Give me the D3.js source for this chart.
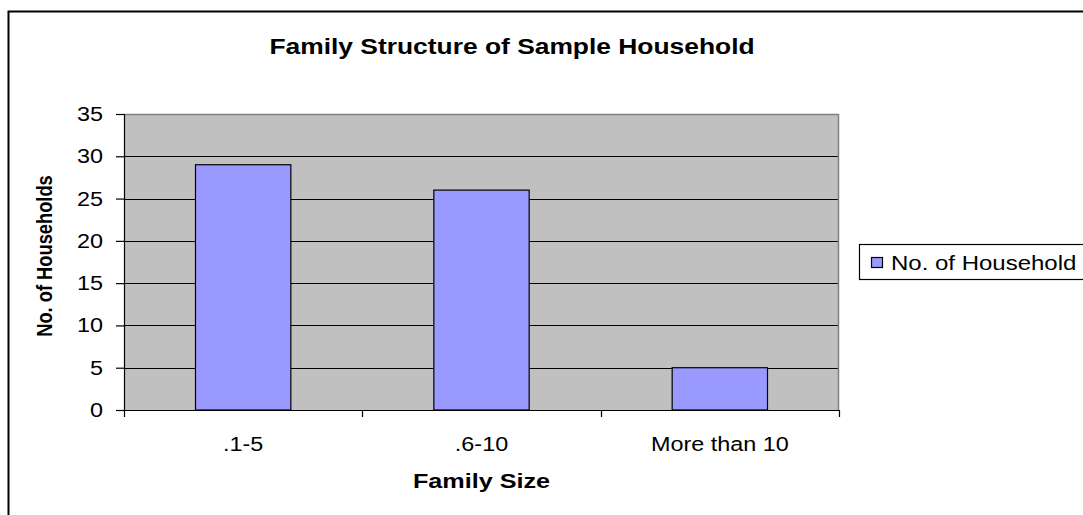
<!DOCTYPE html>
<html>
<head>
<meta charset="utf-8">
<script src="https://cdn.jsdelivr.net/npm/d3@7"></script>
<style>
  html, body { margin: 0; padding: 0; background: #fff; }
  svg { display: block; font-family: Arial, "Liberation Sans", sans-serif; }
</style>
</head>
<body>
<svg id="chart" width="1083" height="515"></svg>
<script>
// Family size groups and number of households in each
const categories = [".1-5", ".6-10", "More than 10"];
const households = [29, 26, 5];
const yTicks = [0, 5, 10, 15, 20, 25, 30, 35];

const titleText = "Family Structure of Sample Household";
const xTitle = "Family Size";
const yTitle = "No. of Households";
const seriesName = "No. of Household";

const svg = d3.select("#chart");
const W = 1083, H = 515;
const SX = 1.2; // text is drawn slightly wide, as in the exported chart

// chart frame
svg.append("rect")
  .attr("x", 8.5).attr("y", 11.5)
  .attr("width", W + 20).attr("height", H + 20)
  .attr("fill", "#fff").attr("stroke", "#000").attr("stroke-width", 2);

const plot = { left: 124, top: 114, right: 839, bottom: 410 };

const x = d3.scaleBand()
  .domain(categories)
  .range([plot.left, plot.right])
  .paddingInner(0.6)
  .paddingOuter(0.3);

const y = d3.scaleLinear()
  .domain([0, 35])
  .range([plot.bottom, plot.top]);

// helper for wide text
function wideText(g, tx, ty, str, size, opts = {}) {
  return g.append("text")
    .attr("transform", `translate(${tx},${ty}) scale(${SX},1)` + (opts.rotate ? ` rotate(${opts.rotate})` : ""))
    .attr("text-anchor", opts.anchor || "middle")
    .attr("dy", opts.dy || null)
    .attr("font-size", size)
    .attr("font-weight", opts.bold ? "bold" : null)
    .attr("fill", "#000")
    .text(str);
}

// plot area
svg.append("rect")
  .attr("x", plot.left).attr("y", plot.top)
  .attr("width", plot.right - plot.left).attr("height", plot.bottom - plot.top)
  .attr("fill", "#C0C0C0");

// gridlines
svg.append("g")
  .selectAll("line")
  .data(yTicks.filter(d => d > 0 && d < 35))
  .join("line")
  .attr("x1", plot.left).attr("x2", plot.right)
  .attr("y1", d => Math.round(y(d)) + 0.5).attr("y2", d => Math.round(y(d)) + 0.5)
  .attr("stroke", "#000").attr("stroke-width", 1.2);

// plot border (top and right in gray)
svg.append("path")
  .attr("d", `M${plot.left},${plot.top + 0.5}H${plot.right - 0.5}V${plot.bottom}`)
  .attr("fill", "none").attr("stroke", "#808080").attr("stroke-width", 1.5);

// bars
svg.append("g")
  .selectAll("rect")
  .data(categories.map((c, i) => ({ c, v: households[i] })))
  .join("rect")
  .attr("x", d => x(d.c))
  .attr("y", d => y(d.v))
  .attr("width", x.bandwidth())
  .attr("height", d => y(0) - y(d.v))
  .attr("fill", "#9999FF")
  .attr("stroke", "#000").attr("stroke-width", 1.2);

// y axis (line and ticks from d3, labels drawn wide)
const yAxis = d3.axisLeft(y).tickValues(yTicks).tickSize(8).tickFormat("");
const gy = svg.append("g")
  .attr("transform", `translate(${plot.left},0)`)
  .call(yAxis);
gy.select(".domain").attr("stroke", "#000").attr("stroke-width", 1.2);
gy.selectAll(".tick line").attr("stroke", "#000").attr("stroke-width", 1.2);
const gyl = svg.append("g");
yTicks.forEach(t => wideText(gyl, plot.left - 21, y(t), String(t), 19.5, { anchor: "end", dy: "0.36em" }));

// x axis: category boundary ticks and centered labels
const gx = svg.append("g");
gx.append("line")
  .attr("x1", plot.left).attr("x2", plot.right)
  .attr("y1", plot.bottom + 0.5).attr("y2", plot.bottom + 0.5)
  .attr("stroke", "#000").attr("stroke-width", 1.2);
const step = (plot.right - plot.left) / categories.length;
gx.selectAll("line.tk")
  .data(d3.range(categories.length + 1))
  .join("line")
  .attr("class", "tk")
  .attr("x1", i => Math.round(plot.left + i * step) + 0.5)
  .attr("x2", i => Math.round(plot.left + i * step) + 0.5)
  .attr("y1", plot.bottom).attr("y2", plot.bottom + 7)
  .attr("stroke", "#000").attr("stroke-width", 1.2);
categories.forEach(c => wideText(gx, x(c) + x.bandwidth() / 2, 451, c, 19.5));

// titles
wideText(svg, 512, 54, titleText, 22, { bold: true });
wideText(svg, (plot.left + plot.right) / 2, 488, xTitle, 21, { bold: true });
wideText(svg, 52, 256, yTitle, 18.3, { bold: true, rotate: -90 });

// legend
const lg = svg.append("g").attr("transform", "translate(859,244)");
lg.append("rect")
  .attr("x", 0.5).attr("y", 0.5).attr("width", 260).attr("height", 35)
  .attr("fill", "#fff").attr("stroke", "#000").attr("stroke-width", 1.2);
lg.append("rect")
  .attr("x", 12.5).attr("y", 13.5).attr("width", 11).attr("height", 10)
  .attr("fill", "#9999FF").attr("stroke", "#000").attr("stroke-width", 1.2);
wideText(lg, 32, 26, seriesName, 20, { anchor: "start" });
</script>
</body>
</html>
